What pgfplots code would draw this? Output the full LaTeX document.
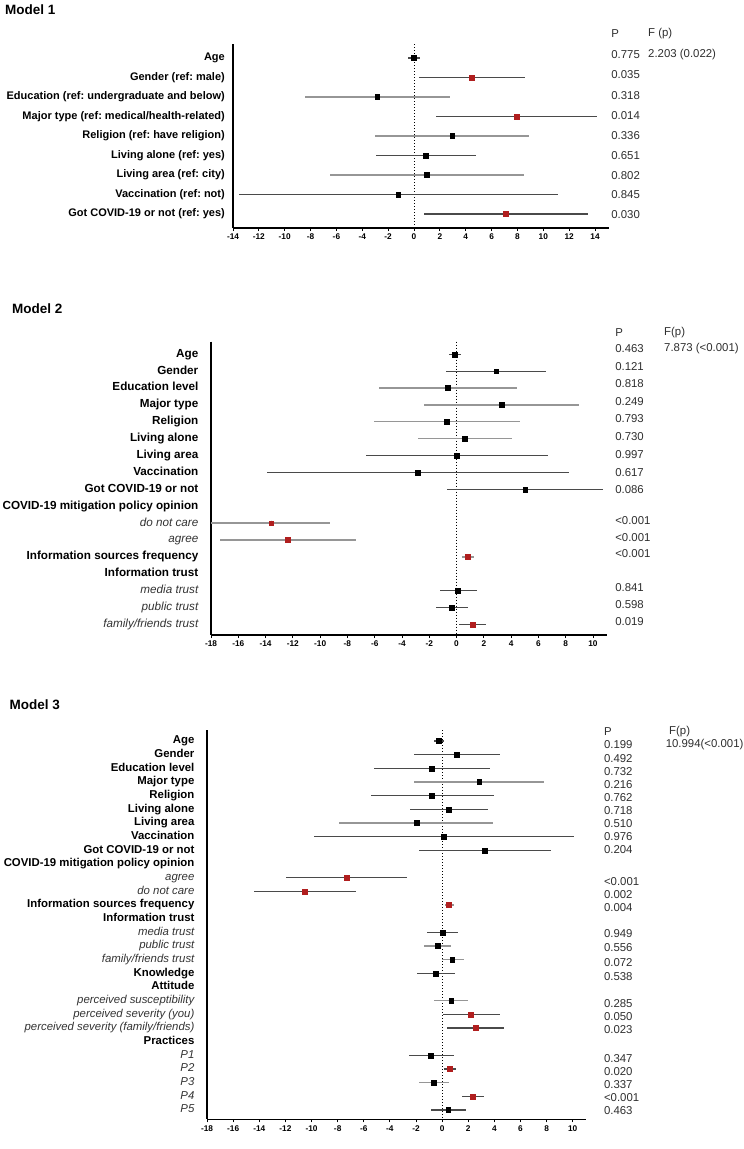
\documentclass[border=0pt]{standalone}
\usepackage{pgfplots}
\usepackage{pgfplotstable}
\pgfplotsset{compat=1.18}
\usepackage{fontspec}
\setmainfont{Liberation Sans}
\frenchspacing

\definecolor{cidark}{HTML}{4A4A4A}
\definecolor{cilight}{HTML}{969696}
\definecolor{sigred}{HTML}{B01E1E}
\definecolor{ptext}{HTML}{2E2E2E}
\definecolor{subtext}{HTML}{333333}

% row est lo hi ci(0 dark / 1 light) sig(0 black / 1 red)
\pgfplotstableread{
row est lo hi ci sig
1 0.00 -0.45 0.45 0 0
2 4.46 0.37 8.58 0 1
3 -2.84 -8.47 2.76 1 0
4 7.92 1.69 14.19 0 1
5 2.95 -3.02 8.92 1 0
6 0.92 -2.95 4.79 0 0
7 1.00 -6.52 8.47 1 0
8 -1.22 -13.52 11.16 0 0
9 7.11 0.74 13.49 0 1
}\modelone

\pgfplotstableread{
row est lo hi ci sig
1 -0.14 -0.56 0.31 0 0
2 2.90 -0.77 6.56 0 0
3 -0.63 -5.66 4.43 1 0
4 3.32 -2.37 9.01 1 0
5 -0.73 -6.08 4.64 1 0
6 0.59 -2.86 4.05 1 0
7 0.00 -6.67 6.67 0 0
8 -2.83 -13.90 8.24 0 0
9 5.03 -0.73 10.75 0 0
11 -13.58 -18.00 -9.25 1 1
12 -12.36 -17.32 -7.40 1 1
13 0.80 0.38 1.26 1 1
15 0.10 -1.22 1.47 0 0
16 -0.35 -1.50 0.87 0 0
17 1.19 0.21 2.16 0 1
}\modeltwo

\pgfplotstableread{
row est lo hi ci sig
1 -0.26 -0.62 0.11 0 0
2 1.13 -2.15 4.41 0 0
3 -0.80 -5.25 3.68 0 0
4 2.84 -2.15 7.80 1 0
5 -0.77 -5.43 3.97 0 0
6 0.51 -2.48 3.54 0 0
7 -1.97 -7.91 3.90 1 0
8 0.11 -9.81 10.10 0 0
9 3.24 -1.79 8.31 0 0
11 -7.33 -11.99 -2.66 0 1
12 -10.50 -14.40 -6.56 0 1
13 0.51 0.22 0.91 1 1
15 0.04 -1.17 1.20 0 0
16 -0.33 -1.42 0.69 1 0
17 0.77 0.00 1.68 1 0
18 -0.51 -1.93 0.98 0 0
20 0.69 -0.62 1.97 1 0
21 2.19 0.04 4.41 0 1
22 2.55 0.40 4.74 0 1
24 -0.87 -2.55 0.87 0 0
25 0.55 0.11 1.06 0 1
26 -0.62 -1.79 0.55 1 0
27 2.33 1.49 3.21 0 1
28 0.47 -0.84 1.86 0 0
}\modelthree

\pgfplotsset{
  forest/.style={
    scale only axis,
    clip=false,
    y dir=reverse,
    axis x line*=bottom,
    axis y line*=left,
    axis line style={line width=1.3pt, black},
    tick align=outside,
    major tick length=3pt,
    xtick style={line width=0.9pt, black},
    ytick style={draw=none},
    minor tick num=0,
    xticklabel style={font=\fontsize{8.3}{9}\selectfont\bfseries, inner sep=0pt,
      text height=6pt, text depth=0pt, yshift=-2.5pt},
    /pgf/number format/assume math mode=true,
    yticklabel style={font=\fontsize{11.4}{13}\selectfont\bfseries, inner sep=0pt,
      text height=8.2pt, text depth=2.4pt},
  },
}
\tikzset{
  pv/.style={anchor=west, inner sep=0pt, text=ptext, font=\fontsize{11.4}{13}\selectfont},
  ttl/.style={anchor=west, inner sep=0pt, font=\fontsize{13.5}{15}\selectfont\bfseries},
}

% confidence-interval segments of one shade
\newcommand{\ciplot}[3]{%
  \addplot[only marks, mark=none, forget plot,
    restrict expr to domain={\thisrow{ci}}{#3:#3},
    error bars/.cd, x dir=both, x explicit, error mark=none,
    error bar style={line width=1.3pt, draw=#2}]
    table[x=est, y=row,
      x error plus expr=\thisrow{hi}-\thisrow{est},
      x error minus expr=\thisrow{est}-\thisrow{lo}] {#1};
}
% point estimates of one colour
\newcommand{\estplot}[3]{%
  \addplot[only marks, mark=square*, mark size=2.4pt, color=#2, forget plot,
    restrict expr to domain={\thisrow{sig}}{#3:#3}]
    table[x=est, y=row] {#1};
}
\newcommand{\itl}[1]{{\normalfont\itshape\color{subtext}#1}}

\begin{document}
\begin{tikzpicture}
\path[use as bounding box] (0,0) rectangle (744pt,-1149pt);

% ---------------- Model 1 ----------------
\node[ttl] at (5pt,-10pt) {Model 1};
\begin{axis}[forest,
  at={(233pt,-44pt)}, anchor=north west,
  width=375.6pt, height=184pt,
  xmin=-14, xmax=15.05, ymin=0.28, ymax=9.72,
  xtick={-14,-12,...,14},
  ytick={1,...,9},
  yticklabel style={xshift=-5pt, font=\fontsize{11}{13}\selectfont\bfseries},
  yticklabels={Age, Gender (ref: male), Education (ref: undergraduate and below),
    Major type (ref: medical/health-related), Religion (ref: have religion),
    Living alone (ref: yes), Living area (ref: city), Vaccination (ref: not),
    Got COVID-19 or not (ref: yes)},
]
\addplot[black, line width=1pt, dash pattern=on 1pt off 2pt, forget plot] coordinates {(0,0.28) (0,9.72)};
\ciplot{\modelone}{cidark}{0}
\ciplot{\modelone}{cilight}{1}
\estplot{\modelone}{black}{0}
\estplot{\modelone}{sigred}{1}
\node[pv] at (axis cs:15.25,-0.28) {P};
\node[pv] at (axis cs:18.1,-0.28) {F (p)};
\node[pv] at (axis cs:15.25,0.83) {0.775};
\node[pv] at (axis cs:18.1,0.83) {2.203 (0.022)};
\node[pv] at (axis cs:15.25,1.87) {0.035};
\node[pv] at (axis cs:15.25,2.92) {0.318};
\node[pv] at (axis cs:15.25,3.94) {0.014};
\node[pv] at (axis cs:15.25,4.97) {0.336};
\node[pv] at (axis cs:15.25,6.00) {0.651};
\node[pv] at (axis cs:15.25,7.01) {0.802};
\node[pv] at (axis cs:15.25,7.99) {0.845};
\node[pv] at (axis cs:15.25,9.01) {0.030};
\end{axis}

% ---------------- Model 2 ----------------
\node[ttl] at (12pt,-309pt) {Model 2};
\begin{axis}[forest,
  at={(211pt,-341.7pt)}, anchor=north west,
  width=395.6pt, height=293.3pt,
  xmin=-18, xmax=11, ymin=0.253, ymax=17.63,
  xtick={-18,-16,...,10},
  ytick={1,...,17},
  yticklabel style={xshift=-9.5pt, font=\fontsize{11.7}{13}\selectfont\bfseries},
  yticklabels={Age, Gender, Education level, Major type, Religion, Living alone,
    Living area, Vaccination, Got COVID-19 or not, COVID-19 mitigation policy opinion,
    \itl{do not care}, \itl{agree}, Information sources frequency, Information trust,
    \itl{media trust}, \itl{public trust}, \itl{family/friends trust}},
]
\addplot[black, line width=1pt, dash pattern=on 1pt off 2pt, forget plot] coordinates {(0,0.253) (0,17.63)};
\ciplot{\modeltwo}{cidark}{0}
\ciplot{\modeltwo}{cilight}{1}
\estplot{\modeltwo}{black}{0}
\estplot{\modeltwo}{sigred}{1}
\node[pv] at (axis cs:11.62,-0.28) {P};
\node[pv] at (axis cs:15.21,-0.28) {F(p)};
\node[pv] at (axis cs:11.62,0.68) {0.463};
\node[pv] at (axis cs:15.21,0.68) {7.873 (<0.001)};
\node[pv] at (axis cs:11.62,1.73) {0.121};
\node[pv] at (axis cs:11.62,2.76) {0.818};
\node[pv] at (axis cs:11.62,3.81) {0.249};
\node[pv] at (axis cs:11.62,4.83) {0.793};
\node[pv] at (axis cs:11.62,5.88) {0.730};
\node[pv] at (axis cs:11.62,6.93) {0.997};
\node[pv] at (axis cs:11.62,7.98) {0.617};
\node[pv] at (axis cs:11.62,9.00) {0.086};
\node[pv] at (axis cs:11.62,10.86) {<0.001};
\node[pv] at (axis cs:11.62,11.83) {<0.001};
\node[pv] at (axis cs:11.62,12.80) {<0.001};
\node[pv] at (axis cs:11.62,14.83) {0.841};
\node[pv] at (axis cs:11.62,15.82) {0.598};
\node[pv] at (axis cs:11.62,16.81) {0.019};
\end{axis}

% ---------------- Model 3 ----------------
\node[ttl] at (9.5pt,-705pt) {Model 3};
\begin{axis}[forest,
  at={(207.1pt,-730pt)}, anchor=north west,
  width=378.7pt, height=389.3pt,
  xmin=-18, xmax=11, ymin=0.195, ymax=28.68,
  xtick={-18,-16,...,10},
  ytick={1,...,28},
  yticklabel style={xshift=-9.5pt},
  yticklabels={Age, Gender, Education level, Major type, Religion, Living alone,
    Living area, Vaccination, Got COVID-19 or not, COVID-19 mitigation policy opinion,
    \itl{agree}, \itl{do not care}, Information sources frequency, Information trust,
    \itl{media trust}, \itl{public trust}, \itl{family/friends trust}, Knowledge, Attitude,
    \itl{perceived susceptibility}, \itl{perceived severity (you)},
    \itl{perceived severity (family/friends)}, Practices,
    \itl{P1}, \itl{P2}, \itl{P3}, \itl{P4}, \itl{P5}},
]
\addplot[black, line width=1pt, dash pattern=on 1pt off 2pt, forget plot] coordinates {(0,0.195) (0,28.68)};
\ciplot{\modelthree}{cidark}{0}
\ciplot{\modelthree}{cilight}{1}
\estplot{\modelthree}{black}{0}
\estplot{\modelthree}{sigred}{1}
\node[pv] at (axis cs:12.38,0.32) {P};
\node[pv] at (axis cs:17.37,0.32) {F(p)};
\node[pv] at (axis cs:12.38,1.29) {0.199};
\node[pv] at (axis cs:17.11,1.29) {10.994(<0.001)};
\node[pv] at (axis cs:12.38,2.27) {0.492};
\node[pv] at (axis cs:12.38,3.22) {0.732};
\node[pv] at (axis cs:12.38,4.17) {0.216};
\node[pv] at (axis cs:12.38,5.12) {0.762};
\node[pv] at (axis cs:12.38,6.07) {0.718};
\node[pv] at (axis cs:12.38,7.02) {0.510};
\node[pv] at (axis cs:12.38,7.98) {0.976};
\node[pv] at (axis cs:12.38,8.93) {0.204};
\node[pv] at (axis cs:12.38,11.29) {<0.001};
\node[pv] at (axis cs:12.38,12.24) {0.002};
\node[pv] at (axis cs:12.38,13.22) {0.004};
\node[pv] at (axis cs:12.38,15.10) {0.949};
\node[pv] at (axis cs:12.38,16.15) {0.556};
\node[pv] at (axis cs:12.38,17.20) {0.072};
\node[pv] at (axis cs:12.38,18.22) {0.538};
\node[pv] at (axis cs:12.38,20.22) {0.285};
\node[pv] at (axis cs:12.38,21.17) {0.050};
\node[pv] at (axis cs:12.38,22.15) {0.023};
\node[pv] at (axis cs:12.38,24.22) {0.347};
\node[pv] at (axis cs:12.38,25.17) {0.020};
\node[pv] at (axis cs:12.38,26.12) {0.337};
\node[pv] at (axis cs:12.38,27.07) {<0.001};
\node[pv] at (axis cs:12.38,28.02) {0.463};
\end{axis}
\end{tikzpicture}
\end{document}
